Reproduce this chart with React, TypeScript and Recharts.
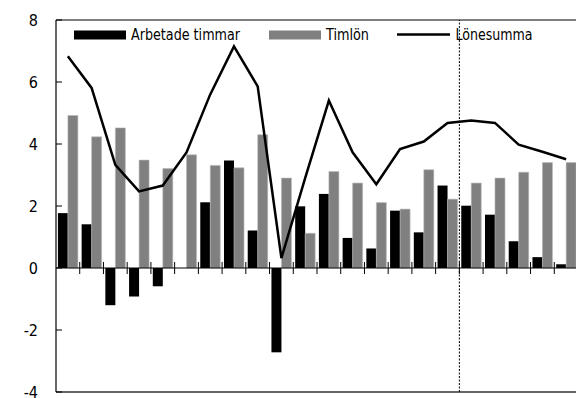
import React from 'react';
import { ComposedChart, Bar, Line, XAxis, YAxis, ReferenceLine, Legend } from 'recharts';

const categories = ['1','2','3','4','5','6','7','8','9','10','11','12','13','14','15','16','17','18','19','20','21','22'];
const arbetadeTimmar = [1.77, 1.41, -1.2, -0.92, -0.59, 0, 2.12, 3.47, 1.21, -2.72, 1.99, 2.39, 0.97, 0.63, 1.85, 1.15, 2.66, 2.01, 1.72, 0.86, 0.35, 0.12];
const timlon = [4.92, 4.23, 4.52, 3.48, 3.21, 3.65, 3.31, 3.23, 4.3, 2.9, 1.12, 3.11, 2.74, 2.11, 1.9, 3.17, 2.22, 2.74, 2.9, 3.09, 3.4, 3.4];
const lonesumma = [6.83, 5.81, 3.33, 2.47, 2.66, 3.73, 5.6, 7.15, 5.86, 0.32, 2.9, 5.4, 3.73, 2.7, 3.84, 4.08, 4.68, 4.76, 4.68, 3.98, 3.75, 3.51];
const yTicks = [-4, -2, 0, 2, 4, 6, 8];
const dividerCategory = '18';

const data = categories.map((c, i) => ({
  cat: c,
  arb: arbetadeTimmar[i],
  tim: timlon[i],
  lon: lonesumma[i],
}));

const FONT = "'DejaVu Sans Condensed', 'Liberation Sans Narrow', sans-serif";
const TICK_MARGIN = 18;

const YTick = (props: any) => {
  const { x, y, payload } = props;
  return (
    <g>
      <text x={x} y={y} textAnchor="end" dominantBaseline="central" fontFamily={FONT} fontSize={16} fill="#000">
        {payload.value}
      </text>
      <line x1={x + TICK_MARGIN} x2={x + TICK_MARGIN + 6} y1={y} y2={y} stroke="#000" strokeWidth={1} />
    </g>
  );
};

const ZeroAxis = (props: any) => {
  const { x1, x2, y1 } = props;
  const n = categories.length;
  const step = (x2 - x1) / n;
  const ticks = [];
  for (let i = 1; i < n; i++) {
    const tx = x1 + step * i;
    ticks.push(<line key={i} x1={tx} x2={tx} y1={y1 - 6} y2={y1 + 6} stroke="#000" strokeWidth={1} />);
  }
  return (
    <g>
      <line x1={x1} x2={x2} y1={y1} y2={y1} stroke="#000" strokeWidth={1.2} />
      {ticks}
    </g>
  );
};

const LegendContent = () => (
  <svg width={576} height={50} style={{ display: 'block' }}>
    <rect x={74} y={30.5} width={52} height={9} fill="#000" />
    <text x={131} y={40} fontFamily={FONT} fontSize={16} fill="#000" textLength={109} lengthAdjust="spacingAndGlyphs">Arbetade timmar</text>
    <rect x={269} y={30.5} width={52} height={9} fill="#808080" />
    <text x={326} y={40} fontFamily={FONT} fontSize={16} fill="#000" textLength={43} lengthAdjust="spacingAndGlyphs">Timlön</text>
    <line x1={397} x2={450} y1={34.5} y2={34.5} stroke="#000" strokeWidth={2.5} />
    <text x={455.5} y={40} fontFamily={FONT} fontSize={16} fill="#000" textLength={77} lengthAdjust="spacingAndGlyphs">Lönesumma</text>
  </svg>
);

export default function App() {
  return (
    <div style={{ position: 'absolute', left: 0, top: 0, width: 576, height: 398, overflow: 'hidden', background: '#fff' }}>
      <ComposedChart
        width={578}
        height={398}
        data={data}
        margin={{ top: 20, right: 0, bottom: 6, left: 0 }}
        barCategoryGap="8%"
        barGap={0}
      >
        <XAxis dataKey="cat" hide />
        <YAxis
          domain={[-4, 8]}
          ticks={yTicks}
          interval={0}
          width={56}
          tickSize={0}
          tickMargin={TICK_MARGIN}
          tick={<YTick />}
          axisLine={{ stroke: '#000', strokeWidth: 1.2 }}
          tickLine={false}
          allowDataOverflow
        />
        <ReferenceLine y={8} stroke="#000" strokeWidth={1.2} ifOverflow="visible" />
        <ReferenceLine y={-4} stroke="#333" strokeWidth={1.5} ifOverflow="visible" />
        <Bar dataKey="arb" fill="#000" isAnimationActive={false} />
        <Bar dataKey="tim" fill="#808080" stroke="#b8b8b8" strokeWidth={0.6} isAnimationActive={false} />
        <ReferenceLine y={0} shape={<ZeroAxis />} />
        <ReferenceLine x={dividerCategory} position="start" stroke="#000" strokeWidth={1} strokeDasharray="2 1.5" />
        <Line dataKey="lon" type="linear" stroke="#000" strokeWidth={2.5} dot={false} isAnimationActive={false} />
        <Legend
          verticalAlign="middle"
          align="center"
          layout="horizontal"
          content={<LegendContent />}
          wrapperStyle={{ top: 0, left: 0, width: 576, height: 50 }}
        />
      </ComposedChart>
    </div>
  );
}
